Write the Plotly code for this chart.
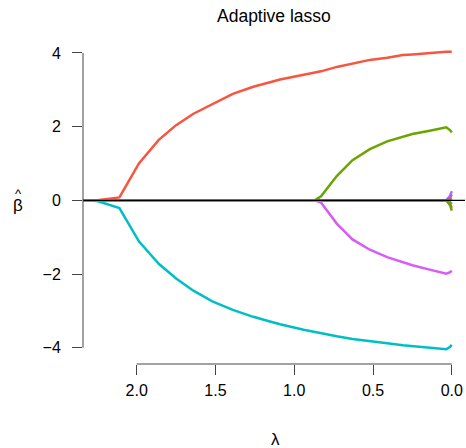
import plotly.graph_objects as go

# lambda grid (x axis, reversed)
lam = [2.34, 2.25, 2.11, 1.985, 1.86, 1.75, 1.64, 1.52, 1.39, 1.26, 1.16, 1.09, 0.94,
       0.87, 0.83, 0.73, 0.63, 0.52, 0.41, 0.31, 0.25, 0.14, 0.097, 0.055, 0.035, 0.01, 0.0]

beta_orange = [0.0, 0.0, 0.08, 1.01, 1.64, 2.04, 2.35, 2.62, 2.89, 3.08, 3.19, 3.28, 3.41,
               3.46, 3.50, 3.62, 3.72, 3.81, 3.87, 3.94, 3.96, 4.00, 4.02, 4.025, 4.03, 4.03, 4.03]
beta_cyan = [0.0, -0.02, -0.21, -1.12, -1.72, -2.12, -2.45, -2.74, -2.97, -3.16, -3.28, -3.36, -3.51,
             -3.57, -3.61, -3.69, -3.76, -3.83, -3.88, -3.93, -3.95, -3.99, -4.00, -4.02, -4.04, -3.97, -3.92]
beta_green = [0.0] * 13 + [0.0, 0.11, 0.66, 1.09, 1.39, 1.60, 1.73, 1.80, 1.89, 1.93, 1.96, 1.98, 1.90, 1.84]
beta_magenta = [0.0] * 13 + [0.0, -0.06, -0.63, -1.06, -1.34, -1.54, -1.68, -1.76, -1.88, -1.93, -1.98, -1.99, -1.95, -1.91]

# noise variables: zero until the very end, then fan out
noise_end_mid = [0.12, 0.08, 0.03, -0.05, -0.1, -0.14]
noise_end = [0.25, 0.16, 0.06, -0.1, -0.2, -0.28]
noise_colors = ["#D65CF5", "#6B7BFF", "#F8553F", "#00BFC4", "#F8553F", "#6AA400"]

series = [
    ("orange", beta_orange, "#F8553F"),
    ("cyan", beta_cyan, "#00BFC4"),
    ("green", beta_green, "#6AA400"),
    ("magenta", beta_magenta, "#D65CF5"),
]

y_ticks = [4, 2, 0, -2, -4]
y_tick_text = ["4", "2", "0", "\u22122", "\u22124"]
x_ticks = [2.0, 1.5, 1.0, 0.5, 0.0]
x_tick_text = ["2.0", "1.5", "1.0", "0.5", "0.0"]

fig = go.Figure()

for i, (mid, end) in enumerate(zip(noise_end_mid, noise_end)):
    vals = [0.0] * (len(lam) - 2) + [mid, end]
    fig.add_trace(go.Scatter(x=lam, y=vals, mode="lines",
                             line=dict(color=noise_colors[i], width=2.5),
                             showlegend=False, hoverinfo="skip"))

for name, vals, col in series:
    fig.add_trace(go.Scatter(x=lam, y=vals, mode="lines", name=name,
                             line=dict(color=col, width=2.5), showlegend=False))

fig.add_hline(y=0, line=dict(color="black", width=1.2))

axcol = "#444444"
# R-style axis lines spanning only the tick range
fig.add_shape(type="line", xref="paper", yref="y", x0=0, x1=0,
              y0=min(y_ticks), y1=max(y_ticks), line=dict(color=axcol, width=1))
fig.add_shape(type="line", xref="x", yref="paper", x0=max(x_ticks), x1=min(x_ticks),
              y0=0, y1=0, line=dict(color=axcol, width=1))

font = "Liberation Sans, Arial, Helvetica, sans-serif"

fig.update_layout(
    width=466, height=448,
    margin=dict(l=83, r=1, t=40, b=84),
    paper_bgcolor="white", plot_bgcolor="white",
    showlegend=False,
    font=dict(family=font, size=16, color="black"),
    xaxis=dict(range=[2.341, -0.084], showgrid=False, zeroline=False, showline=False,
               tickmode="array", tickvals=x_ticks, ticktext=x_tick_text,
               ticks="outside", ticklen=10, tickcolor=axcol, tickwidth=1,
               ticklabelstandoff=2, ticklabeloverflow="allow", tickfont=dict(size=16)),
    yaxis=dict(range=[-4.44, 4.35], showgrid=False, zeroline=False, showline=False,
               tickmode="array", tickvals=y_ticks, ticktext=y_tick_text,
               ticks="outside", ticklen=10, tickcolor=axcol, tickwidth=1,
               ticklabelstandoff=8, tickfont=dict(size=16)),
    annotations=[
        dict(text="Adaptive lasso", xref="paper", yref="paper", x=(274 - 83) / 382, y=1 + 24 / 324,
             xanchor="center", yanchor="middle", showarrow=False, font=dict(size=17.5)),
        dict(text="\u03bb", xref="paper", yref="paper", x=(275 - 83) / 382, y=-(439 - 364) / 324,
             xanchor="center", yanchor="middle", showarrow=False, font=dict(size=17)),
        dict(text="\u03b2", xref="paper", yref="paper", x=-(83 - 18) / 382, y=(364 - 205) / 324,
             xanchor="center", yanchor="middle", showarrow=False, font=dict(size=17)),
        dict(text="^", xref="paper", yref="paper", x=-(83 - 18.5) / 382, y=(364 - 193) / 324,
             xanchor="center", yanchor="middle", showarrow=False, font=dict(size=13)),
    ],
)

# remove the default page margin so the figure sits at the window's top-left corner
fig.write_html(
    "out.html",
    config={"displayModeBar": False},
    post_script="document.body.style.margin='0px';"
                "document.documentElement.style.overflow='hidden';",
)
